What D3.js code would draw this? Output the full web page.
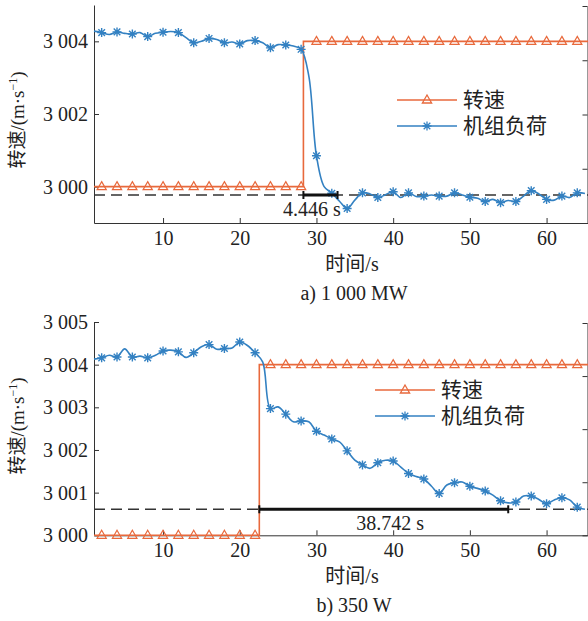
<!DOCTYPE html>
<html>
<head>
<meta charset="utf-8">
<script src="https://cdn.jsdelivr.net/npm/d3@7"></script>
<style>
  body { margin: 0; background: #fff; }
  text { font-family: "Liberation Serif", "Noto Sans CJK SC", serif; fill: #222; }
</style>
</head>
<body>
<div class="chart"></div>
<script>
var svgWidth = 588;
var svgHeight = 621;

// time axis: one sample per second
var times = d3.range(1, 66);
var markerTimes = d3.range(2, 65, 2);

// panel a) 1 000 MW
var loadA = [
  3004.28, 3004.24, 3004.19, 3004.26, 3004.22, 3004.20, 3004.24, 3004.13, 3004.22, 3004.25,
  3004.27, 3004.24, 3004.10, 3003.96, 3004.00, 3004.08, 3004.05, 3003.96, 3003.98, 3003.93,
  3004.02, 3004.02, 3003.96, 3003.82, 3003.91, 3003.90, 3003.87, 3003.78, 3003.05, 3000.85,
  3000.00, 2999.82, 2999.60, 2999.40, 2999.63, 2999.83, 2999.80, 2999.70, 2999.78, 2999.86,
  2999.70, 2999.83, 2999.73, 2999.74, 2999.77, 2999.74, 2999.74, 2999.83, 2999.77, 2999.71,
  2999.68, 2999.59, 2999.65, 2999.56, 2999.62, 2999.59, 2999.74, 2999.89, 2999.80, 2999.65,
  2999.63, 2999.74, 2999.70, 2999.83, 2999.81
];
var speedStepA = 28.3;
var speedLevelsA = [3000, 3004];
var refLevelA = 2999.77;
var spanA = [28.3, 32.75];
var spanLabelA = "4.446 s";
var yTicksA = [3000, 3002, 3004];

// panel b) 350 W
var loadB = [
  3004.13, 3004.16, 3004.22, 3004.18, 3004.37, 3004.18, 3004.20, 3004.16, 3004.22, 3004.32,
  3004.34, 3004.30, 3004.17, 3004.28, 3004.42, 3004.47, 3004.36, 3004.38, 3004.39, 3004.53,
  3004.45, 3004.28, 3004.06, 3002.97, 3003.01, 3002.84, 3002.66, 3002.68, 3002.66, 3002.44,
  3002.35, 3002.26, 3002.19, 3001.98, 3001.76, 3001.65, 3001.57, 3001.70, 3001.76, 3001.74,
  3001.60, 3001.45, 3001.38, 3001.32, 3001.15, 3000.98, 3001.18, 3001.23, 3001.25, 3001.15,
  3001.10, 3001.04, 3000.94, 3000.81, 3000.76, 3000.78, 3000.92, 3000.92, 3000.84, 3000.74,
  3000.83, 3000.88, 3000.83, 3000.66, 3000.61
];
var speedStepB = 22.55;
var speedLevelsB = [3000, 3004];
var refLevelB = 3000.61;
var spanB = [22.55, 55.0];
var spanLabelB = "38.742 s";
var yTicksB = [3000, 3001, 3002, 3003, 3004, 3005];

var xTicks = [10, 20, 30, 40, 50, 60];
var legendNames = ["转速", "机组负荷"];

var orange = "#e8693c";
var blue = "#3381c2";

var svg = d3.select(".chart")
  .append("svg")
  .attr("width", svgWidth)
  .attr("height", svgHeight);

var fmt = function(d) {
  var s = String(d);
  return s.length > 3 ? s.slice(0, s.length - 3) + " " + s.slice(-3) : s;
};

var triPath = "M0,-5L4.6,3L-4.6,3Z";
var starPath = "M-4.5,0H4.5M0,-4.5V4.5M-3.3,-3.3L3.3,3.3M-3.3,3.3L3.3,-3.3";

function drawPanel(opt) {
  var x = d3.scaleLinear().domain([1, 65.4]).range([94, 588]);
  var y = d3.scaleLinear().domain(opt.yDomain).range([opt.bottom, opt.top]);
  var g = svg.append("g");

  // left axis
  g.append("g")
    .attr("transform", "translate(94,0)")
    .call(d3.axisLeft(y).tickValues(opt.yTicks).tickFormat(fmt).tickSizeInner(-5).tickSizeOuter(0).tickPadding(6))
    .call(a => a.selectAll("text").attr("font-size", 20).attr("font-family", "Liberation Serif"))
    .call(a => a.selectAll("path,line").attr("stroke", "#333"));

  // right axis (labels cut off in the original)
  var yr = d3.scaleLinear().domain([0, 4]).range([opt.bottom, opt.top + 1]);
  g.append("g")
    .attr("transform", "translate(587.5,0)")
    .call(d3.axisLeft(yr).ticks(4).tickFormat("").tickSizeInner(5).tickSizeOuter(0))
    .call(a => a.selectAll("path,line").attr("stroke", "#333"));

  // bottom axis
  g.append("g")
    .attr("transform", `translate(0,${opt.bottom})`)
    .call(d3.axisBottom(x).tickValues(xTicks).tickSizeInner(-5).tickSizeOuter(0).tickPadding(8))
    .call(a => a.selectAll("text").attr("font-size", 20).attr("font-family", "Liberation Serif"))
    .call(a => a.selectAll("path,line").attr("stroke", "#333"));

  // reference dashed line
  g.append("line")
    .attr("x1", 94).attr("x2", 588)
    .attr("y1", y(opt.refLevel)).attr("y2", y(opt.refLevel))
    .attr("stroke", "#333").attr("stroke-width", 1.4)
    .attr("stroke-dasharray", "11,6");

  // speed step line
  var speedPts = [
    [1, opt.speedLevels[0]], [opt.speedStep, opt.speedLevels[0]],
    [opt.speedStep, opt.speedLevels[1]], [65.4, opt.speedLevels[1]]
  ];
  g.append("path")
    .attr("d", d3.line().x(d => x(d[0])).y(d => y(d[1]))(speedPts))
    .attr("fill", "none").attr("stroke", orange).attr("stroke-width", 1.6);

  g.selectAll(".tri")
    .data(markerTimes)
    .enter()
    .append("path")
    .attr("d", triPath)
    .attr("transform", d => `translate(${x(d)},${y(d < opt.speedStep ? opt.speedLevels[0] : opt.speedLevels[1])})`)
    .attr("fill", "none").attr("stroke", orange).attr("stroke-width", 1.2);

  // load line
  var loadPts = times.map((t, i) => [t, opt.load[i]]);
  g.append("path")
    .attr("d", d3.line().curve(d3.curveCatmullRom.alpha(0.5)).x(d => x(d[0])).y(d => y(d[1]))(loadPts))
    .attr("fill", "none").attr("stroke", blue).attr("stroke-width", 1.6);

  g.selectAll(".star")
    .data(loadPts.filter(d => d[0] % 2 === 0))
    .enter()
    .append("path")
    .attr("d", starPath)
    .attr("transform", d => `translate(${x(d[0])},${y(d[1])})`)
    .attr("fill", "none").attr("stroke", blue).attr("stroke-width", 1.4);

  // time span bracket
  var by = y(opt.refLevel);
  g.append("line")
    .attr("x1", x(opt.span[0])).attr("x2", x(opt.span[1]))
    .attr("y1", by).attr("y2", by)
    .attr("stroke", "#111").attr("stroke-width", 3);
  opt.span.forEach(function(s) {
    g.append("line")
      .attr("x1", x(s)).attr("x2", x(s))
      .attr("y1", by - 4).attr("y2", by + 4)
      .attr("stroke", "#111").attr("stroke-width", 2);
  });
  g.append("text")
    .attr("x", x(opt.spanLabelX)).attr("y", by + 21)
    .attr("text-anchor", "middle").attr("font-size", 20)
    .text(opt.spanLabel);

  // legend
  legendNames.forEach(function(name, i) {
    var ly = opt.legendY + i * 26;
    var col = i === 0 ? orange : blue;
    g.append("line")
      .attr("x1", opt.legendX).attr("x2", opt.legendX + 60)
      .attr("y1", ly).attr("y2", ly)
      .attr("stroke", col).attr("stroke-width", 1.6);
    g.append("path")
      .attr("d", i === 0 ? triPath : starPath)
      .attr("transform", `translate(${opt.legendX + 30},${ly})`)
      .attr("fill", "none").attr("stroke", col).attr("stroke-width", 1.3);
    g.append("text")
      .attr("x", opt.legendX + 66).attr("y", ly + 7)
      .attr("font-size", 21)
      .text(name);
  });

  // axis titles
  var yt = g.append("text")
    .attr("transform", `translate(24,${opt.yTitleY}) rotate(-90)`)
    .attr("text-anchor", "middle")
    .attr("font-size", 19);
  yt.append("tspan").text("转速/(m·s");
  yt.append("tspan").attr("baseline-shift", "super").attr("font-size", 12).text("−1");
  yt.append("tspan").text(")");

  g.append("text")
    .attr("x", 352).attr("y", opt.bottom + 48)
    .attr("text-anchor", "middle").attr("font-size", 20)
    .text("时间/s");

  g.append("text")
    .attr("x", 354).attr("y", opt.bottom + 77)
    .attr("text-anchor", "middle").attr("font-size", 20)
    .text(opt.caption);
}

drawPanel({
  top: 5, bottom: 223, yDomain: [2999, 3005], yTicks: yTicksA,
  load: loadA, speedStep: speedStepA, speedLevels: speedLevelsA,
  refLevel: refLevelA, span: spanA, spanLabel: spanLabelA, spanLabelX: 29.4,
  legendX: 397, legendY: 100, yTitleY: 120, caption: "a) 1 000 MW"
});

drawPanel({
  top: 322, bottom: 535.3, yDomain: [3000, 3005], yTicks: yTicksB,
  load: loadB, speedStep: speedStepB, speedLevels: speedLevelsB,
  refLevel: refLevelB, span: spanB, spanLabel: spanLabelB, spanLabelX: 39.6,
  legendX: 375, legendY: 390, yTitleY: 426, caption: "b) 350 W"
});
</script>
</body>
</html>
